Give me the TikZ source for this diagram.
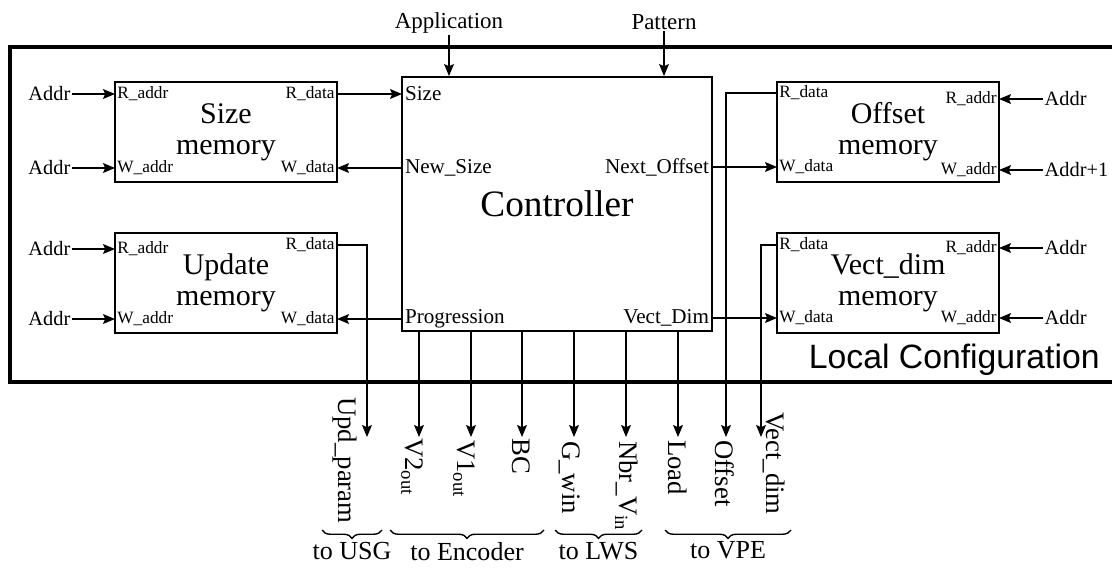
\documentclass[tikz,border=0pt]{standalone}
\usepackage{fontspec}
\setmainfont{Liberation Serif}
\newfontfamily\framefont{Liberation Sans}
\usetikzlibrary{arrows.meta,decorations.pathreplacing}

\begin{document}
\begin{tikzpicture}[
  x=0.025cm,y=-0.025cm,
  >={Stealth[length=8.5pt,width=7pt,inset=1.5pt]},
  memory/.style={draw,line width=1.3pt,minimum width=5.55cm,minimum height=2.5cm,
    inner sep=0pt,align=center,font=\fontsize{21.3}{22}\selectfont},
  port/.style={inner xsep=1.5pt,inner ysep=0pt,font=\fontsize{12.3}{14}\selectfont},
  cport/.style={inner xsep=2pt,inner ysep=0pt,font=\fontsize{15}{17}\selectfont},
  addr/.style={inner sep=1pt,font=\fontsize{14.5}{16}\selectfont},
  sig/.style={rotate=-90,inner sep=0pt,font=\fontsize{19}{21}\selectfont},
  group/.style={decorate,decoration={brace,mirror,amplitude=6pt},line width=1pt},
  grouplabel/.style={below=8pt,inner sep=0pt,font=\fontsize{18.5}{20}\selectfont},
  wire/.style={->,line width=1pt}
]
  \useasboundingbox (0,0) rectangle (1112,567);
  \clip (0,0) rectangle (1112,567);

  % local configuration frame
  \draw[line width=2.2pt] (10,47) rectangle (1130,382);
  \node[anchor=base east,inner sep=0pt,font=\framefont\fontsize{24}{26}\selectfont]
    (local) at (1100,368) {Local Configuration};

  % blocks
  \node[memory] (sizemem) at (226,132) {Size\\memory};
  \node[memory] (updmem) at (226,283) {Update\\memory};
  \node[memory] (offmem) at (888,132) {Offset\\memory};
  \node[memory] (vdmem) at (888,283) {Vect\_dim\\memory};
  \node[draw,line width=1.3pt,minimum width=7.75cm,minimum height=6.35cm,
    font=\fontsize{26.5}{28}\selectfont] (ctrl) at (557,204) {Controller};

  % ports of the memories
  \node[port,anchor=west] (s-ra) at (115,94) {R\_addr};
  \node[port,anchor=east] (s-rd) at (337,94) {R\_data};
  \node[port,anchor=west] (s-wa) at (115,168) {W\_addr};
  \node[port,anchor=east] (s-wd) at (337,168) {W\_data};
  \node[port,anchor=west] (u-ra) at (115,249) {R\_addr};
  \node[port,anchor=east] (u-rd) at (337,245) {R\_data};
  \node[port,anchor=west] (u-wa) at (115,319) {W\_addr};
  \node[port,anchor=east] (u-wd) at (337,319) {W\_data};
  \node[port,anchor=west] (o-rd) at (777,93) {R\_data};
  \node[port,anchor=east] (o-ra) at (999,99) {R\_addr};
  \node[port,anchor=west] (o-wd) at (777,167) {W\_data};
  \node[port,anchor=east] (o-wa) at (999,170) {W\_addr};
  \node[port,anchor=west] (v-rd) at (777,245) {R\_data};
  \node[port,anchor=east] (v-ra) at (999,248) {R\_addr};
  \node[port,anchor=west] (v-wd) at (777,318) {W\_data};
  \node[port,anchor=east] (v-wa) at (999,318) {W\_addr};

  % ports of the controller
  \node[cport,anchor=west] (c-size) at (402,94) {Size};
  \node[cport,anchor=west] (c-new) at (402,168) {New\_Size};
  \node[cport,anchor=west] (c-prog) at (402,319) {Progression};
  \node[cport,anchor=east] (c-next) at (712,167) {Next\_Offset};
  \node[cport,anchor=east] (c-vd) at (712,318) {Vect\_Dim};

  % addresses
  \node[addr,anchor=east] (la1) at (72,94) {Addr};
  \node[addr,anchor=east] (la2) at (72,168) {Addr};
  \node[addr,anchor=east] (la3) at (72,249) {Addr};
  \node[addr,anchor=east] (la4) at (72,319) {Addr};
  \node[addr,anchor=west] (ra1) at (1043,99) {Addr};
  \node[addr,anchor=west] (ra2) at (1043,170) {Addr+1};
  \node[addr,anchor=west] (ra3) at (1043,248) {Addr};
  \node[addr,anchor=west] (ra4) at (1043,318) {Addr};
  \draw[wire] (la1) -- (s-ra);
  \draw[wire] (la2) -- (s-wa);
  \draw[wire] (la3) -- (u-ra);
  \draw[wire] (la4) -- (u-wa);
  \draw[wire] (ra1) -- (o-ra);
  \draw[wire] (ra2) -- (o-wa);
  \draw[wire] (ra3) -- (v-ra);
  \draw[wire] (ra4) -- (v-wa);

  % inputs on top
  \node[anchor=base,inner sep=1pt,font=\fontsize{16.3}{18}\selectfont] (app) at (449,28) {Application};
  \node[anchor=base,inner sep=1pt,font=\fontsize{16.3}{18}\selectfont] (pat) at (664,29) {Pattern};
  \draw[wire] (app) -- (app |- ctrl.north);
  \draw[wire] (pat) -- (pat |- ctrl.north);

  % memories <-> controller
  \draw[wire] (s-rd) -- (c-size);
  \draw[wire] (c-new) -- (s-wd);
  \draw[wire] (c-prog) -- (u-wd);
  \draw[wire] (c-next) -- (o-wd);
  \draw[wire] (c-vd) -- (v-wd);

  % outputs
  \foreach \n/\x in {upd/367,v2/419,v1/471,bc/522,gw/574,nv/626,ld/678,off/726,vd/761}
    \coordinate (\n-tip) at (\x,437);
  \foreach \n in {v2,v1,bc,gw,nv,ld}
    \draw[wire] (ctrl.south -| \n-tip) -- (\n-tip);
  \draw[wire] (u-rd.east) -| (upd-tip);
  \draw[wire] (o-rd.west) -| (off-tip);
  \draw[wire] (v-rd.west) -| (vd-tip);

  \node[sig,anchor=north west] (upd) at (357,397) {Upd\_param};
  \node[sig,anchor=north west] (v2) at (423,438) {V2\textsubscript{out}};
  \node[sig,anchor=north west] (v1) at (475,440) {V1\textsubscript{out}};
  \node[sig,anchor=north west] (bc) at (530,438) {BC};
  \node[sig,anchor=north west] (gw) at (580,441) {G\_win};
  \node[sig,anchor=north west] (nv) at (638,441) {Nbr\_V\textsubscript{in}};
  \node[sig,anchor=north west] (ld) at (687,440) {Load};
  \node[sig,anchor=north west] (off) at (735,440) {Offset};
  \node[sig,anchor=north west] (vd) at (785,412) {Vect\_dim};

  % destinations
  \draw[group] (322,530) -- node[grouplabel] (usg) {to USG} (382,530);
  \draw[group] (390,530) -- node[grouplabel] (enc) {to Encoder} (544,530);
  \draw[group] (555,530) -- node[grouplabel] (lws) {to LWS} (642,530);
  \draw[group] (665,530) -- node[grouplabel] (vpe) {to VPE} (791,530);
\end{tikzpicture}
\end{document}
